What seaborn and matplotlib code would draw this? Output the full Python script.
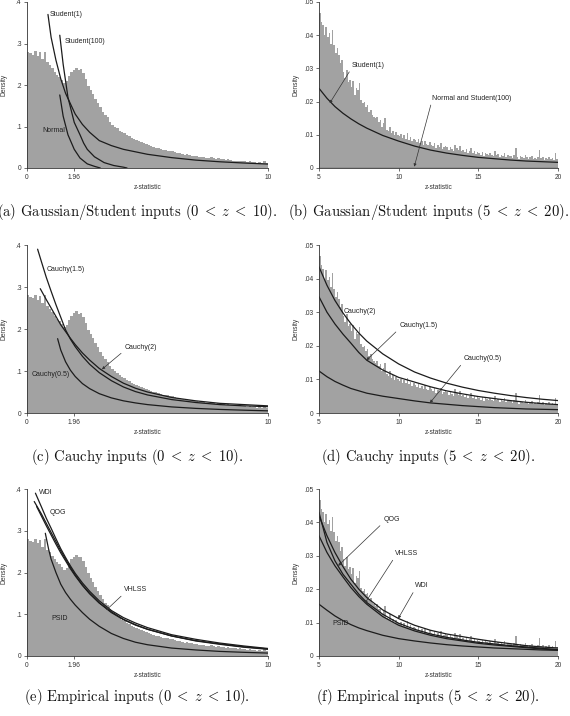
import numpy as np
import pandas as pd
import matplotlib
matplotlib.use("Agg")
import matplotlib.pyplot as plt
import seaborn as sns

sns.set_theme(style="ticks")
plt.rcParams['font.family'] = ['Liberation Sans', 'DejaVu Sans']
plt.rcParams['mathtext.fontset'] = 'cm'

# ---------------- data ----------------
# histogram of z-statistics, bins of 0.1 on 0..10
hist_low = [
    0.280, 0.276, 0.273, 0.281, 0.270, 0.279, 0.262, 0.280, 0.255, 0.248,
    0.240, 0.232, 0.225, 0.220, 0.212, 0.205, 0.210, 0.222, 0.232, 0.237,
    0.242, 0.236, 0.238, 0.228, 0.214, 0.198, 0.188, 0.178, 0.166, 0.156,
    0.146, 0.136, 0.128, 0.122, 0.112, 0.104, 0.100, 0.096, 0.090, 0.086,
    0.084, 0.079, 0.076, 0.072, 0.070, 0.067, 0.064, 0.062, 0.060, 0.058,
    0.055, 0.053, 0.050, 0.049, 0.047, 0.046, 0.044, 0.043, 0.042, 0.041,
    0.040, 0.038, 0.036, 0.036, 0.034, 0.032, 0.033, 0.031, 0.030, 0.029,
    0.028, 0.027, 0.027, 0.026, 0.025, 0.024, 0.026, 0.023, 0.022, 0.024,
    0.022, 0.021, 0.020, 0.021, 0.019, 0.018, 0.018, 0.017, 0.018, 0.016,
    0.016, 0.015, 0.016, 0.014, 0.015, 0.013, 0.014, 0.012, 0.016, 0.012,
]
# histogram of z-statistics, bins of 0.1 on 5..20
hist_high = [
    0.0466, 0.0440, 0.0430, 0.0400, 0.0426, 0.0396, 0.0406, 0.0375, 0.0416, 0.0370,
    0.0345, 0.0360, 0.0340, 0.0315, 0.0325, 0.0290, 0.0270, 0.0295, 0.0260, 0.0265,
    0.0245, 0.0262, 0.0220, 0.0240, 0.0235, 0.0255, 0.0205, 0.0195, 0.0200, 0.0185,
    0.0190, 0.0170, 0.0175, 0.0160, 0.0155, 0.0150, 0.0155, 0.0140, 0.0145, 0.0125,
    0.0135, 0.0150, 0.0115, 0.0110, 0.0125, 0.0105, 0.0112, 0.0098, 0.0108, 0.0100,
    0.0095, 0.0102, 0.0090, 0.0098, 0.0088, 0.0105, 0.0085, 0.0092, 0.0080, 0.0088,
    0.0084, 0.0078, 0.0086, 0.0075, 0.0080, 0.0070, 0.0082, 0.0072, 0.0068, 0.0078,
    0.0070, 0.0065, 0.0074, 0.0060, 0.0068, 0.0064, 0.0075, 0.0058, 0.0062, 0.0066,
    0.0062, 0.0055, 0.0064, 0.0058, 0.0052, 0.0070, 0.0060, 0.0054, 0.0066, 0.0050,
    0.0055, 0.0048, 0.0058, 0.0044, 0.0052, 0.0060, 0.0046, 0.0050, 0.0042, 0.0048,
    0.0045, 0.0040, 0.0048, 0.0036, 0.0044, 0.0042, 0.0038, 0.0046, 0.0040, 0.0035,
    0.0050, 0.0038, 0.0042, 0.0034, 0.0040, 0.0036, 0.0044, 0.0032, 0.0038, 0.0035,
    0.0036, 0.0030, 0.0040, 0.0060, 0.0034, 0.0028, 0.0036, 0.0032, 0.0030, 0.0038,
    0.0034, 0.0026, 0.0032, 0.0036, 0.0028, 0.0030, 0.0026, 0.0034, 0.0055, 0.0030,
    0.0032, 0.0025, 0.0030, 0.0028, 0.0034, 0.0026, 0.0030, 0.0024, 0.0045, 0.0028,
]

# (a) Gaussian / Student, 0..10
a_student1_z = [0.87, 1.0, 1.2, 1.4, 1.6, 1.8, 2.0, 2.3, 2.6, 3.0, 3.5, 4.0, 4.5, 5, 6, 7, 8, 9, 10]
a_student1_d = [0.37, 0.315, 0.26, 0.215, 0.18, 0.155, 0.13, 0.105, 0.086, 0.066, 0.054, 0.045, 0.039, 0.033, 0.025, 0.019, 0.015, 0.012, 0.0095]
a_student100_z = [1.36, 1.5, 1.7, 1.96, 2.2, 2.35, 2.5, 2.8, 3.2, 3.6, 4.0, 4.15]
a_student100_d = [0.32, 0.25, 0.17, 0.11, 0.08, 0.06, 0.045, 0.027, 0.013, 0.006, 0.002, 0.0]
a_normal_z = [1.36, 1.5, 1.7, 1.96, 2.2, 2.5, 2.8, 3.04]
a_normal_d = [0.176, 0.125, 0.08, 0.045, 0.024, 0.01, 0.004, 0.0]

# (b) Gaussian / Student, 5..20
b_student1_z = [5, 5.5, 6, 6.5, 7, 7.5, 8, 9, 10, 11, 12, 13, 14, 15, 16, 17, 18, 19, 20]
b_student1_d = [0.024, 0.021, 0.0185, 0.0165, 0.0148, 0.0133, 0.012, 0.0098, 0.0081, 0.0066, 0.0054, 0.0045, 0.0038, 0.0032, 0.0028, 0.0024, 0.0021, 0.0019, 0.0017]
b_normal_z = [5, 20]
b_normal_d = [0.0, 0.0]

# (c) Cauchy, 0..10
c_cauchy15_z = [0.44, 0.6, 0.8, 1.0, 1.2, 1.4, 1.6, 1.8, 2.0, 2.3, 2.6, 3.0, 3.5, 4.0, 4.5, 5, 6, 7, 8, 9, 10]
c_cauchy15_d = [0.39, 0.36, 0.323, 0.29, 0.258, 0.228, 0.198, 0.176, 0.158, 0.135, 0.116, 0.096, 0.077, 0.062, 0.051, 0.043, 0.032, 0.025, 0.020, 0.017, 0.015]
c_cauchy2_z = [0.55, 0.8, 1.0, 1.2, 1.4, 1.6, 1.8, 2.0, 2.3, 2.6, 3.0, 3.5, 4.0, 4.5, 5, 6, 7, 8, 9, 10]
c_cauchy2_d = [0.296, 0.27, 0.25, 0.23, 0.21, 0.194, 0.178, 0.163, 0.143, 0.126, 0.106, 0.087, 0.071, 0.059, 0.050, 0.037, 0.029, 0.023, 0.020, 0.017]
c_cauchy05_z = [1.27, 1.4, 1.6, 1.8, 2.0, 2.3, 2.6, 3.0, 3.5, 4.0, 4.5, 5, 6, 7, 8, 9, 10]
c_cauchy05_d = [0.177, 0.15, 0.122, 0.102, 0.087, 0.07, 0.058, 0.046, 0.036, 0.029, 0.024, 0.02, 0.0145, 0.011, 0.0085, 0.0067, 0.0052]

# (d) Cauchy, 5..20
tail_z = [5, 5.5, 6, 6.5, 7, 7.5, 8, 9, 10, 11, 12, 13, 14, 15, 16, 17, 18, 19, 20]
d_cauchy2_d = [0.0435, 0.038, 0.0335, 0.0298, 0.0266, 0.0238, 0.0214, 0.0176, 0.0146, 0.0122, 0.0104, 0.0089, 0.0077, 0.0067, 0.0059, 0.0052, 0.0046, 0.0041, 0.0037]
d_cauchy15_d = [0.0346, 0.030, 0.0265, 0.0235, 0.0208, 0.018, 0.0157, 0.0128, 0.0106, 0.0092, 0.0078, 0.0066, 0.0057, 0.0049, 0.0043, 0.0037, 0.0032, 0.0028, 0.0025]
d_cauchy05_d = [0.0125, 0.0108, 0.0094, 0.0083, 0.0073, 0.0066, 0.0059, 0.005, 0.0043, 0.0036, 0.003, 0.0026, 0.0022, 0.0019, 0.0016, 0.0014, 0.0012, 0.0011, 0.001]

# (e) Empirical, 0..10
e_wdi_z = [0.35, 0.6, 0.8, 1.0, 1.2, 1.4, 1.6, 1.8, 2.0, 2.3, 2.6, 3.0, 3.5, 4.0, 4.5, 5, 6, 7, 8, 9, 10]
e_wdi_d = [0.39, 0.357, 0.33, 0.306, 0.281, 0.257, 0.236, 0.216, 0.198, 0.175, 0.155, 0.132, 0.109, 0.092, 0.079, 0.068, 0.051, 0.040, 0.031, 0.024, 0.018]
e_qog_z = [0.3, 0.6, 0.8, 1.0, 1.2, 1.4, 1.6, 1.8, 2.0, 2.3, 2.6, 3.0, 3.5, 4.0, 4.5, 5, 6, 7, 8, 9, 10]
e_qog_d = [0.37, 0.34, 0.318, 0.296, 0.274, 0.252, 0.232, 0.212, 0.194, 0.17, 0.15, 0.127, 0.104, 0.087, 0.074, 0.064, 0.048, 0.037, 0.029, 0.022, 0.017]
e_vhlss_z = [0.4, 0.6, 0.8, 1.0, 1.2, 1.4, 1.6, 1.8, 2.0, 2.3, 2.6, 3.0, 3.5, 4.0, 4.5, 5, 6, 7, 8, 9, 10]
e_vhlss_d = [0.358, 0.335, 0.312, 0.29, 0.268, 0.247, 0.228, 0.209, 0.192, 0.169, 0.149, 0.127, 0.106, 0.088, 0.075, 0.064, 0.048, 0.036, 0.028, 0.021, 0.016]
e_psid_z = [0.76, 0.9, 1.0, 1.2, 1.4, 1.6, 1.8, 2.0, 2.3, 2.6, 3.0, 3.5, 4.0, 4.5, 5, 6, 7, 8, 9, 10]
e_psid_d = [0.294, 0.255, 0.232, 0.2, 0.172, 0.152, 0.136, 0.122, 0.104, 0.088, 0.071, 0.054, 0.042, 0.033, 0.027, 0.019, 0.0145, 0.011, 0.0088, 0.007]

# (f) Empirical, 5..20
f_wdi_d = [0.042, 0.036, 0.031, 0.0268, 0.023, 0.020, 0.0175, 0.0138, 0.0112, 0.0092, 0.0077, 0.0066, 0.0058, 0.005, 0.0043, 0.0037, 0.0031, 0.0027, 0.0024]
f_qog_d = [0.043, 0.034, 0.0285, 0.0245, 0.0215, 0.0185, 0.016, 0.0125, 0.0098, 0.008, 0.0066, 0.0056, 0.0048, 0.0041, 0.0036, 0.0031, 0.0027, 0.0023, 0.0019]
f_vhlss_d = [0.036, 0.031, 0.027, 0.0237, 0.0205, 0.0178, 0.0155, 0.0118, 0.0092, 0.0075, 0.0062, 0.0052, 0.0045, 0.0038, 0.0033, 0.0029, 0.0025, 0.0021, 0.0018]
f_psid_d = [0.0155, 0.0137, 0.012, 0.0106, 0.0094, 0.0084, 0.0076, 0.0062, 0.0052, 0.0045, 0.0039, 0.0034, 0.003, 0.0027, 0.0024, 0.0022, 0.002, 0.0018, 0.0017]

captions = [
    r"(a) Gaussian/Student inputs $(0\;<\;z\;<\;10)$.",
    r"(b) Gaussian/Student inputs $(5\;<\;z\;<\;20)$.",
    r"(c) Cauchy inputs $(0\;<\;z\;<\;10)$.",
    r"(d) Cauchy inputs $(5\;<\;z\;<\;20)$.",
    r"(e) Empirical inputs $(0\;<\;z\;<\;10)$.",
    r"(f) Empirical inputs $(5\;<\;z\;<\;20)$.",
]
low_xticks = [0, 1.96, 10]
low_xticklabels = ["0", "1.96", "10"]
low_yticks = [0, 0.1, 0.2, 0.3, 0.4]
low_yticklabels = ["0", ".1", ".2", ".3", ".4"]
high_xticks = [5, 10, 15, 20]
high_xticklabels = ["5", "10", "15", "20"]
high_yticks = [0, 0.01, 0.02, 0.03, 0.04, 0.05]
high_yticklabels = ["0", ".01", ".02", ".03", ".04", ".05"]

# ---------------- style ----------------
W, H = 570, 716
HIST_C = "#a2a2a2"
LINE_C = "#1c1c1c"
AX_C = "#333333"
FS = 4.8
LW = 0.9

fig = plt.figure(figsize=(W / 100, H / 100), dpi=100)


def make_ax(x0, x1, ytop, ybot):
    return fig.add_axes([x0 / W, 1 - ybot / H, (x1 - x0) / W, (ybot - ytop) / H])


def setup(ax, low):
    if low:
        lo, hi, heights = 0.0, 10.0, hist_low
        ytop, yt, ytl, xt, xtl = 0.4, low_yticks, low_yticklabels, low_xticks, low_xticklabels
    else:
        lo, hi, heights = 5.0, 20.0, hist_high
        ytop, yt, ytl, xt, xtl = 0.05, high_yticks, high_yticklabels, high_xticks, high_xticklabels
    n = len(heights)
    centers = lo + (np.arange(n) + 0.5) * (hi - lo) / n
    df = pd.DataFrame({"z": centers, "d": heights})
    sns.histplot(data=df, x="z", weights="d", binwidth=(hi - lo) / n, binrange=(lo, hi),
                 element="step", fill=True, color=HIST_C, alpha=1, linewidth=0,
                 ax=ax, stat="count")
    ax.set_xlim(lo, hi)
    ax.set_ylim(0, ytop)
    ax.set_xticks(xt)
    ax.set_xticklabels(xtl)
    ax.set_yticks(yt)
    ax.set_yticklabels(ytl)
    sns.despine(ax=ax)
    for s in ("left", "bottom"):
        ax.spines[s].set_color(AX_C)
        ax.spines[s].set_linewidth(0.6)
    ax.tick_params(direction="out", length=2.5, width=0.5, colors=AX_C, labelsize=FS, pad=1.5)
    ax.set_ylabel("Density", fontsize=FS, color=AX_C)
    ax.set_xlabel("z-statistic", fontsize=FS, color=AX_C)
    ax.yaxis.set_label_coords(-0.082, 0.5)
    ax.xaxis.set_label_coords(0.5, -0.095)


def curve(ax, z, d):
    sns.lineplot(x=z, y=d, color=LINE_C, linewidth=LW, ax=ax, sort=False, estimator=None)


def label(ax, text, tx, ty, px=None, py=None):
    if px is None:
        ax.text(tx, ty, text, ha="left", va="center", fontsize=5, color="#222")
    else:
        ax.annotate(text, xy=(px, py), xytext=(tx, ty), ha="left", va="center", fontsize=5,
                    color="#222",
                    arrowprops=dict(arrowstyle="-|>", lw=0.5, color="#333", mutation_scale=4,
                                    shrinkA=0, shrinkB=0, relpos=(0, 0)))


LX0, LX1 = 27, 268
RX0, RX1 = 319, 558
rows = [(2, 168), (245, 413), (489, 656)]

# (a)
ax = make_ax(LX0, LX1, *rows[0]); setup(ax, True)
curve(ax, a_student1_z, a_student1_d)
curve(ax, a_student100_z, a_student100_d)
curve(ax, a_normal_z, a_normal_d)
label(ax, "Student(1)", 0.94, 0.37)
label(ax, "Student(100)", 1.55, 0.306)
label(ax, "Normal", 0.62, 0.09)

# (b)
ax = make_ax(RX0, RX1, *rows[0]); setup(ax, False)
curve(ax, b_student1_z, b_student1_d)
curve(ax, b_normal_z, b_normal_d)
label(ax, "Student(1)", 7.03, 0.031, 5.67, 0.0195)
label(ax, "Normal and Student(100)", 12.07, 0.021, 10.98, 0.0004)

# (c)
ax = make_ax(LX0, LX1, *rows[1]); setup(ax, True)
curve(ax, c_cauchy15_z, c_cauchy15_d)
curve(ax, c_cauchy2_z, c_cauchy2_d)
curve(ax, c_cauchy05_z, c_cauchy05_d)
label(ax, "Cauchy(1.5)", 0.83, 0.342)
label(ax, "Cauchy(2)", 4.04, 0.157, 3.11, 0.104)
label(ax, "Cauchy(0.5)", 0.21, 0.091)

# (d)
ax = make_ax(RX0, RX1, *rows[1]); setup(ax, False)
curve(ax, tail_z, d_cauchy2_d)
curve(ax, tail_z, d_cauchy15_d)
curve(ax, tail_z, d_cauchy05_d)
label(ax, "Cauchy(2)", 6.57, 0.0301)
label(ax, "Cauchy(1.5)", 10.03, 0.0261, 7.98, 0.0157)
label(ax, "Cauchy(0.5)", 14.06, 0.0162, 11.96, 0.0030)

# (e)
ax = make_ax(LX0, LX1, *rows[2]); setup(ax, True)
curve(ax, e_wdi_z, e_wdi_d)
curve(ax, e_qog_z, e_qog_d)
curve(ax, e_vhlss_z, e_vhlss_d)
curve(ax, e_psid_z, e_psid_d)
label(ax, "WDI", 0.48, 0.391)
label(ax, "QOG", 0.94, 0.343)
label(ax, "VHLSS", 4.04, 0.159, 3.29, 0.11)
label(ax, "PSID", 1.01, 0.091)

# (f)
ax = make_ax(RX0, RX1, *rows[2]); setup(ax, False)
curve(ax, tail_z, f_wdi_d)
curve(ax, tail_z, f_qog_d)
curve(ax, tail_z, f_vhlss_d)
curve(ax, tail_z, f_psid_d)
label(ax, "QOG", 9.03, 0.041, 6.2, 0.027)
label(ax, "VHLSS", 9.76, 0.0307, 7.87, 0.0157)
label(ax, "WDI", 11.02, 0.021, 9.97, 0.0112)
label(ax, "PSID", 5.84, 0.0097)

# captions
cap_y = [212, 457, 697]
for i, text in enumerate(captions):
    cx = 137 if i % 2 == 0 else 428
    fig.text(cx / W, 1 - cap_y[i // 2] / H, text, ha="center", va="center",
             fontsize=10.5, family=["cmr10", "DejaVu Serif"], color="#111")

fig.savefig("out.png", dpi=100)
